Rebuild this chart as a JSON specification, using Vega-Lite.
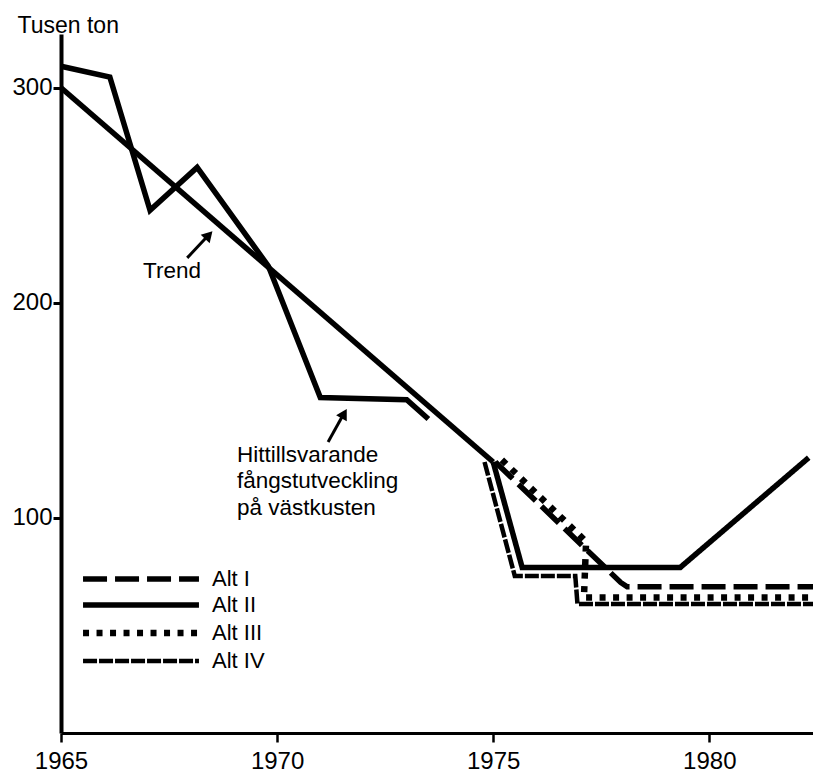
{
  "$schema": "https://vega.github.io/schema/vega-lite/v6.json",
  "width": 752,
  "height": 699,
  "autosize": {"type": "none"},
  "padding": {"left": 61, "top": 34, "right": 0, "bottom": 41},
  "background": "white",
  "config": {"view": {"stroke": null}, "font": "Liberation Sans"},
  "datasets": {
    "catch": [
      {"series": "Hittillsvarande", "o": 1, "year": 1965, "value": 310},
      {"series": "Hittillsvarande", "o": 2, "year": 1966.13, "value": 305},
      {"series": "Hittillsvarande", "o": 3, "year": 1967.06, "value": 243},
      {"series": "Hittillsvarande", "o": 4, "year": 1968.15, "value": 263},
      {"series": "Hittillsvarande", "o": 5, "year": 1969.8, "value": 217},
      {"series": "Hittillsvarande", "o": 6, "year": 1971.0, "value": 156},
      {"series": "Hittillsvarande", "o": 7, "year": 1973.0, "value": 155},
      {"series": "Hittillsvarande", "o": 8, "year": 1973.5, "value": 146},
      {"series": "Trend", "o": 1, "year": 1965, "value": 300},
      {"series": "Trend", "o": 2, "year": 1975, "value": 126}
    ],
    "alts": [
      {"series": "Alt I", "o": 1, "year": 1975.05, "value": 126},
      {"series": "Alt I", "o": 2, "year": 1977.95, "value": 70},
      {"series": "Alt I", "o": 3, "year": 1978.1, "value": 68},
      {"series": "Alt I", "o": 4, "year": 1982.4, "value": 68},
      {"series": "Alt II", "o": 1, "year": 1975, "value": 126},
      {"series": "Alt II", "o": 2, "year": 1975.67, "value": 77},
      {"series": "Alt II", "o": 3, "year": 1979.33, "value": 77},
      {"series": "Alt II", "o": 4, "year": 1982.3, "value": 128},
      {"series": "Alt III", "o": 1, "year": 1975.2, "value": 127},
      {"series": "Alt III", "o": 2, "year": 1977.15, "value": 89},
      {"series": "Alt III", "o": 3, "year": 1977.1, "value": 63},
      {"series": "Alt III", "o": 4, "year": 1982.4, "value": 63},
      {"series": "Alt IV", "o": 1, "year": 1974.8, "value": 126},
      {"series": "Alt IV", "o": 2, "year": 1975.5, "value": 73},
      {"series": "Alt IV", "o": 3, "year": 1976.9, "value": 73},
      {"series": "Alt IV", "o": 4, "year": 1976.95, "value": 60},
      {"series": "Alt IV", "o": 5, "year": 1982.4, "value": 60}
    ],
    "arrows": [
      {"name": "Trend", "year": 1967.92, "value": 220.9, "year2": 1968.4, "value2": 231.2},
      {"name": "Hitt", "year": 1971.18, "value": 135.3, "year2": 1971.53, "value2": 148.0}
    ],
    "heads": [
      {"name": "Trend", "year": 1968.42, "value": 231.5},
      {"name": "Hitt", "year": 1971.55, "value": 148.5}
    ],
    "notes": [
      {"label": "Trend", "year": 1966.9, "value": 211.6},
      {"label": "Hittillsvarande", "year": 1969.07, "value": 126.0},
      {"label": "fångstutveckling", "year": 1969.07, "value": 114.0},
      {"label": "på västkusten", "year": 1969.07, "value": 101.4}
    ]
  },
  "encoding": {
    "x": {
      "field": "year",
      "type": "quantitative",
      "scale": {"domain": [1965, 1982.4], "nice": false, "zero": false},
      "axis": {
        "values": [1965, 1970, 1975, 1980],
        "format": "d",
        "title": null,
        "grid": false,
        "domainColor": "black",
        "domainWidth": 3,
        "tickColor": "black",
        "tickWidth": 2.5,
        "tickSize": 9,
        "labelPadding": 7,
        "labelFlush": false,
        "labelFont": "Liberation Sans",
        "labelFontSize": 24,
        "labelColor": "black"
      }
    },
    "y": {
      "field": "value",
      "type": "quantitative",
      "scale": {"domain": [0, 325], "nice": false},
      "axis": {
        "values": [100, 200, 300],
        "grid": false,
        "domainColor": "black",
        "domainWidth": 4,
        "tickColor": "black",
        "tickWidth": 3,
        "tickSize": 8,
        "labelPadding": 1,
        "labelFont": "Liberation Sans",
        "labelFontSize": 24,
        "labelColor": "black",
        "title": "Tusen ton",
        "titleAngle": 0,
        "titleAlign": "left",
        "titleBaseline": "alphabetic",
        "titleX": -44,
        "titleY": -2,
        "titleFont": "Liberation Sans",
        "titleFontSize": 23,
        "titleFontWeight": "normal",
        "titleColor": "black"
      }
    }
  },
  "layer": [
    {
      "data": {"name": "catch"},
      "mark": {"type": "line", "color": "black", "strokeWidth": 5.5, "strokeJoin": "miter"},
      "encoding": {
        "detail": {"field": "series", "type": "nominal"},
        "order": {"field": "o", "type": "quantitative"}
      }
    },
    {
      "data": {"name": "alts"},
      "mark": {"type": "line", "color": "black", "strokeCap": "butt"},
      "encoding": {
        "order": {"field": "o", "type": "quantitative"},
        "strokeDash": {
          "field": "series",
          "type": "nominal",
          "scale": {
            "domain": ["Alt I", "Alt II", "Alt III", "Alt IV"],
            "range": [[24, 8], [1, 0], [6, 7.5], [14, 2]]
          },
          "legend": {
            "orient": "none",
            "legendX": 69,
            "legendY": 534,
            "title": null,
            "symbolType": "M-8,0H8",
            "symbolSize": 210,
            "symbolStrokeColor": "black",
            "labelFont": "Liberation Sans",
            "labelFontSize": 22,
            "labelColor": "black",
            "labelOffset": 60,
            "rowPadding": 4
          }
        },
        "strokeWidth": {
          "field": "series",
          "type": "nominal",
          "scale": {
            "type": "ordinal",
            "domain": ["Alt I", "Alt II", "Alt III", "Alt IV"],
            "range": [5.5, 5.5, 6.5, 4.5]
          },
          "legend": {
            "orient": "none",
            "legendX": 69,
            "legendY": 534,
            "title": null,
            "symbolType": "M-8,0H8",
            "symbolSize": 210,
            "symbolStrokeColor": "black",
            "labelFont": "Liberation Sans",
            "labelFontSize": 22,
            "labelColor": "black",
            "labelOffset": 60,
            "rowPadding": 4
          }
        }
      }
    },
    {
      "data": {"name": "arrows"},
      "mark": {"type": "rule", "color": "black", "strokeWidth": 3},
      "encoding": {
        "x2": {"field": "year2"},
        "y2": {"field": "value2"}
      }
    },
    {
      "data": {"name": "heads"},
      "transform": [{"filter": "datum.name === 'Trend'"}],
      "mark": {"type": "point", "shape": "triangle-up", "filled": true, "color": "black", "opacity": 1, "size": 150, "angle": 43}
    },
    {
      "data": {"name": "heads"},
      "transform": [{"filter": "datum.name === 'Hitt'"}],
      "mark": {"type": "point", "shape": "triangle-up", "filled": true, "color": "black", "opacity": 1, "size": 150, "angle": 30}
    },
    {
      "data": {"name": "notes"},
      "mark": {"type": "text", "align": "left", "baseline": "alphabetic", "font": "Liberation Sans", "fontSize": 22.5, "color": "black"},
      "encoding": {"text": {"field": "label", "type": "nominal"}}
    }
  ]
}
